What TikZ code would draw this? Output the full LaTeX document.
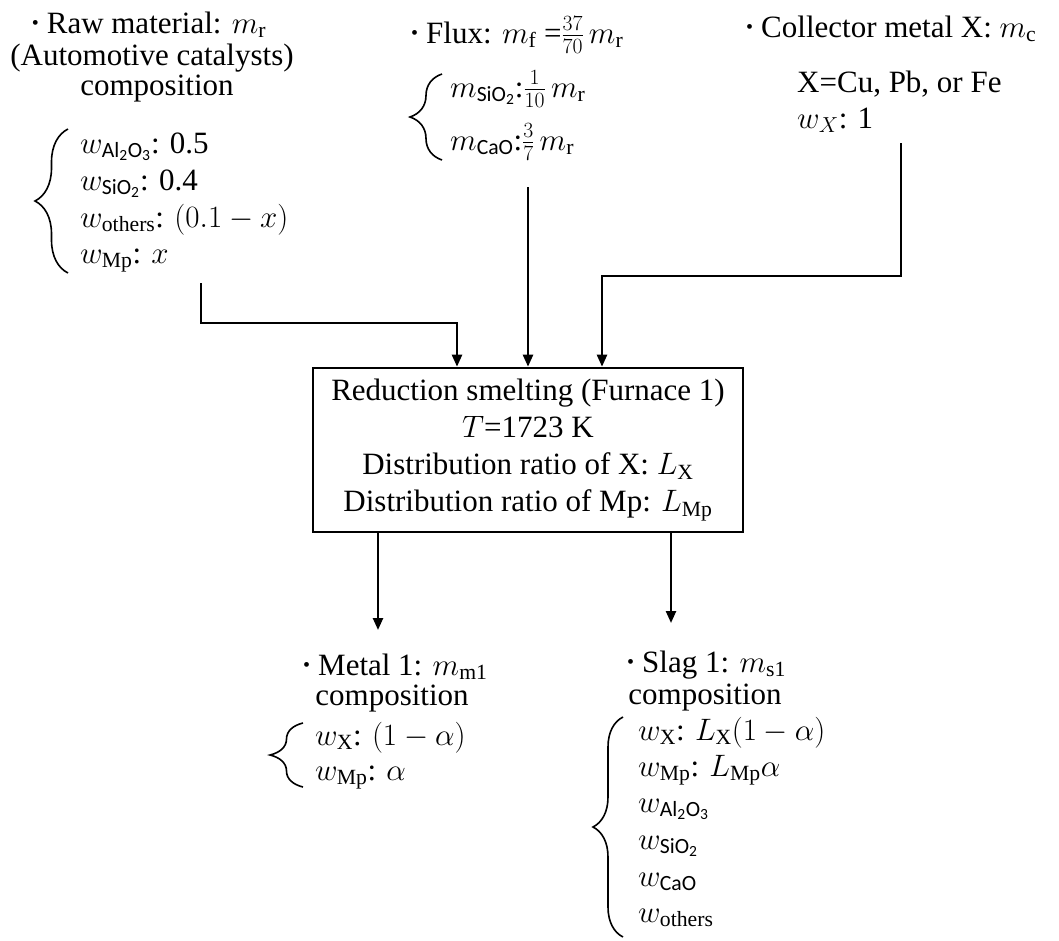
\RequirePackage{fix-cm}
\documentclass[tikz,border=0pt]{standalone}
\usepackage{fontspec}
\setmainfont{Liberation Serif}
\setsansfont{Carlito}
\usetikzlibrary{arrows.meta,decorations.pathreplacing}
% small heading bullet, raised to mid letter height, followed by a gap
\newcommand{\headdot}{\raisebox{4pt}{\fontsize{20}{20}\selectfont •}\hspace{8pt}}

\begin{document}
\begin{tikzpicture}[x=1pt,y=-1pt,
  font=\fontsize{31}{37}\selectfont,
  lbl/.style={inner sep=0pt,anchor=base},
  lblw/.style={inner sep=0pt,anchor=base west},
  flow/.style={line width=2.4pt,-{Triangle[length=12pt,width=10pt]}},
  procbox/.style={draw,line width=2.6pt,minimum width=430pt,minimum height=164pt,
    align=center,inner sep=0pt},
  curly/.style={line width=1.6pt,decorate,
    decoration={brace,amplitude=#1,aspect=0.5}}]
\useasboundingbox (0,0) rectangle (1059,940);

% ---- raw material
\node[lbl] (rawA) at (149,33) {\headdot Raw material: $m_{\mathrm{r}}$};
\node[lbl] (rawB) at (152,65) {(Automotive catalysts)};
\node[lbl] (rawC) at (157,95) {composition};
\node[lblw] (rawW1) at (80,153) {$w_{\mathsf{Al_2O_3}}$: 0.5};
\node[lblw] (rawW2) at (80,190) {$w_{\mathsf{SiO_2}}$: 0.4};
\node[lblw] (rawW3) at (80,227) {$w_{\mathrm{others}}$: $(0.1-x)$};
\node[lblw] (rawW4) at (80,263) {$w_{\mathrm{Mp}}$: $x$};
\draw[curly=33pt] (68,273) -- (68,129);

% ---- flux
\node[lblw] (fluxA) at (411,43) {\headdot Flux: $m_{\mathrm{f}}$ =$\frac{37}{70}\,m_{\mathrm{r}}$};
\node[lblw] (fluxW1) at (450,97) {$m_{\mathsf{SiO_2}}$:$\frac{1}{10}\,m_{\mathrm{r}}$};
\node[lblw] (fluxW2) at (450,150) {$m_{\mathsf{CaO}}$:$\frac{3}{7}\,m_{\mathrm{r}}$};
\draw[curly=32pt] (442,160) -- (442,74);

% ---- collector metal
\node[lblw] (colA) at (746,37) {\headdot Collector metal X: $m_{\mathrm{c}}$};
\node[lblw] (colB) at (797,92) {X=Cu, Pb, or Fe};
\node[lblw] (colC) at (797,128) {$w_X$: 1};

% ---- furnace
\node[procbox] (smelt) at (528,450)
  {Reduction smelting (Furnace 1)\\[-0.3pt]
   $T$=1723 K\\
   Distribution ratio of X: $L_{\mathrm{X}}$\\
   Distribution ratio of Mp: $L_{\mathrm{Mp}}$};

% ---- metal 1
\node[lblw] (metA) at (303,675) {\headdot Metal 1: $m_{\mathrm{m1}}$};
\node[lbl] (metB) at (392,705) {composition};
\node[lblw] (metW1) at (315,745) {$w_{\mathrm{X}}$: $(1-\alpha)$};
\node[lblw] (metW2) at (315,780) {$w_{\mathrm{Mp}}$: $\alpha$};
\draw[curly=33pt] (303,787) -- (303,723);

% ---- slag 1
\node[lblw] (slgA) at (627,672) {\headdot Slag 1: $m_{\mathrm{s1}}$};
\node[lbl] (slgB) at (705,704) {composition};
\node[lblw] (slgW1) at (638,740) {$w_{\mathrm{X}}$: $L_{\mathrm{X}}(1-\alpha)$};
\node[lblw] (slgW2) at (638,776) {$w_{\mathrm{Mp}}$: $L_{\mathrm{Mp}}\alpha$};
\node[lblw] (slgW3) at (638,812) {$w_{\mathsf{Al_2O_3}}$};
\node[lblw] (slgW4) at (638,849) {$w_{\mathsf{SiO_2}}$};
\node[lblw] (slgW5) at (638,886) {$w_{\mathsf{CaO}}$};
\node[lblw] (slgW6) at (638,922) {$w_{\mathrm{others}}$};
\draw[curly=30pt] (623,937) -- (623,717);

% ---- connectors
\coordinate (rawOut) at (201,283);
\coordinate (fluxOut) at (528,187);
\coordinate (colOut) at (901,143);
\coordinate (in1) at (457,0);
\coordinate (in3) at (602,0);
\coordinate (metIn) at (378,630);
\coordinate (slgIn) at (671,623);

\draw[flow] (rawOut) -- ++(0,40) -| (smelt.north -| in1);
\draw[flow] (fluxOut) -- (smelt.north -| fluxOut);
\draw[flow] (colOut) -- ++(0,133) -| (smelt.north -| in3);
\draw[flow] (smelt.south -| metIn) -- (metIn);
\draw[flow] (smelt.south -| slgIn) -- (slgIn);
\end{tikzpicture}
\end{document}
